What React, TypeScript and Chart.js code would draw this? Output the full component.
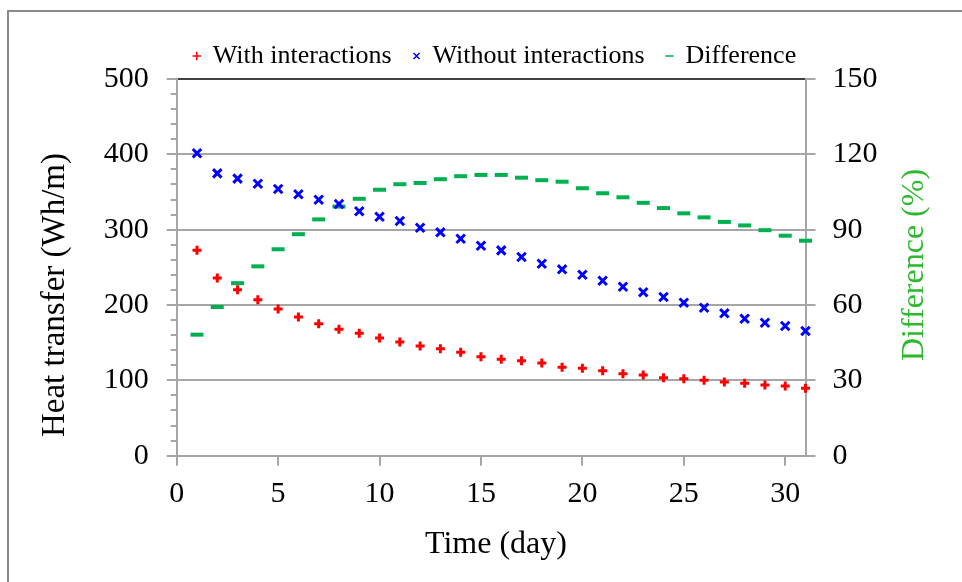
import React, { useEffect, useRef } from 'react';
import { Chart, registerables } from 'chart.js';

Chart.register(...registerables);

const days = [1, 2, 3, 4, 5, 6, 7, 8, 9, 10, 11, 12, 13, 14, 15, 16, 17, 18, 19, 20, 21, 22, 23, 24, 25, 26, 27, 28, 29, 30, 31];
const withInteractions = [272.6, 235.9, 220.3, 207.1, 194.7, 184.1, 175.2, 167.8, 162.5, 156.2, 150.9, 145.6, 142.0, 137.2, 131.4, 127.9, 126.1, 123.0, 117.3, 116.0, 112.8, 108.8, 107.1, 103.5, 102.2, 100.1, 97.8, 96.1, 93.8, 92.5, 89.5];
const withoutInteractions = [401.4, 374.8, 367.7, 361.0, 354.0, 347.0, 339.8, 334.1, 324.4, 317.2, 311.5, 302.6, 296.5, 288.0, 278.7, 272.6, 263.7, 254.8, 247.4, 240.2, 232.2, 224.3, 216.9, 210.6, 203.1, 196.4, 189.0, 181.8, 176.5, 172.2, 165.5];
const difference = [48.2, 59.2, 68.7, 75.4, 82.2, 88.2, 94.1, 99.2, 102.3, 105.9, 108.1, 108.6, 110.1, 111.3, 111.8, 111.8, 110.7, 109.7, 109.1, 106.5, 104.5, 102.9, 100.7, 98.6, 96.5, 94.9, 93.1, 91.7, 89.8, 87.6, 85.6];

const seriesLabels = ['With interactions', 'Without interactions', 'Difference'];
const xTitle = 'Time (day)';
const yTitle = 'Heat transfer (Wh/m)';
const y1Title = 'Difference (%)';

const FONT = 'Liberation Serif';
const GRID = '#a6a6a6';

const decorPlugin = {
  id: 'decor',
  beforeDraw(chart: any) {
    const ctx = chart.ctx;
    ctx.save();
    ctx.fillStyle = '#ffffff';
    ctx.fillRect(0, 0, chart.width, chart.height);
    ctx.strokeStyle = '#8a8a8a';
    ctx.lineWidth = 2;
    ctx.beginPath();
    ctx.moveTo(8, chart.height);
    ctx.lineTo(8, 11);
    ctx.lineTo(chart.width, 11);
    ctx.stroke();
    ctx.restore();
  },
  afterDraw(chart: any) {
    const ctx = chart.ctx;
    const ys = chart.scales.y;
    ctx.save();
    // minor ticks on left axis
    ctx.strokeStyle = GRID;
    ctx.lineWidth = 2;
    for (let v = 20; v < 500; v += 20) {
      if (v % 100 === 0) continue;
      const py = Math.round(ys.getPixelForValue(v));
      ctx.beginPath();
      ctx.moveTo(ys.right - 6, py);
      ctx.lineTo(ys.right, py);
      ctx.stroke();
    }
    // axis titles
    ctx.textAlign = 'center';
    ctx.textBaseline = 'middle';
    ctx.fillStyle = '#000000';
    ctx.font = `32px "${FONT}"`;
    ctx.fillText(xTitle, 496, 545);
    ctx.save();
    ctx.font = `33px "${FONT}"`;
    ctx.translate(55, 295);
    ctx.rotate(-Math.PI / 2);
    ctx.fillText(yTitle, 0, 0);
    ctx.restore();
    ctx.save();
    ctx.font = `32px "${FONT}"`;
    ctx.fillStyle = '#2db82d';
    ctx.translate(915, 265);
    ctx.rotate(-Math.PI / 2);
    ctx.fillText(y1Title, 0, 0);
    ctx.restore();
    ctx.restore();
  },
};

export default function App() {
  const ref = useRef<HTMLCanvasElement>(null);
  useEffect(() => {
    if (!ref.current) return;
    const toPts = (arr: number[]) => days.map((d, i) => ({ x: d, y: arr[i] }));
    const chart = new Chart(ref.current, {
      type: 'scatter',
      data: {
        datasets: [
          {
            label: seriesLabels[0],
            data: toPts(withInteractions),
            pointStyle: 'cross',
            pointRadius: 4.5,
            pointHoverRadius: 4.5,
            pointBorderWidth: 3,
            borderColor: '#ff0000',
            backgroundColor: '#ff0000',
            yAxisID: 'y',
            clip: false,
          },
          {
            label: seriesLabels[1],
            data: toPts(withoutInteractions),
            pointStyle: 'crossRot',
            pointRadius: 6,
            pointHoverRadius: 6,
            pointBorderWidth: 3,
            borderColor: '#0000ff',
            backgroundColor: '#0000ff',
            yAxisID: 'y',
            clip: false,
          },
          {
            label: seriesLabels[2],
            data: toPts(difference),
            pointStyle: 'line',
            pointRadius: 6.5,
            pointHoverRadius: 6.5,
            pointBorderWidth: 4,
            borderColor: '#00b050',
            backgroundColor: '#00b050',
            yAxisID: 'y1',
            clip: false,
          },
        ] as any,
      },
      options: {
        animation: false,
        responsive: false,
        maintainAspectRatio: false,
        events: [],
        layout: { padding: { top: 5, left: 28, right: 0, bottom: 0 } },
        plugins: {
          tooltip: { enabled: false },
          legend: {
            position: 'top',
            labels: {
              usePointStyle: true,
              boxWidth: 6,
              boxHeight: 6,
              padding: 22,
              color: '#000000',
              font: { family: FONT, size: 26 },
              generateLabels: (chart: any) => {
                const items = Chart.defaults.plugins.legend.labels.generateLabels(chart);
                items.forEach((it: any) => { it.lineWidth = 1.5; });
                return items;
              },
            },
          },
        },
        scales: {
          x: {
            type: 'linear',
            min: 0,
            max: 31,
            afterFit: (s: any) => { s.height = 126.3; },
            ticks: {
              stepSize: 5,
              includeBounds: false,
              padding: 10,
              color: '#000000',
              font: { family: FONT, size: 30 },
            },
            grid: { drawOnChartArea: false, drawTicks: true, tickLength: 10, color: GRID, lineWidth: 2 },
            border: { display: true, color: GRID, width: 2 },
          },
          y: {
            type: 'linear',
            position: 'left',
            min: 0,
            max: 500,
            afterFit: (s: any) => { s.width = 148.7; s.paddingTop = 79; },
            ticks: {
              stepSize: 100,
              padding: 18,
              color: '#000000',
              font: { family: FONT, size: 30 },
            },
            grid: {
              color: (c: any) => (c.tick && c.tick.value === 500 ? '#404040' : GRID),
              tickColor: GRID,
              lineWidth: 2,
              drawTicks: true,
              tickLength: 10,
            },
            border: { display: true, color: GRID, width: 2 },
          },
          y1: {
            type: 'linear',
            position: 'right',
            min: 0,
            max: 150,
            afterFit: (s: any) => { s.width = 156.5; },
            ticks: {
              stepSize: 30,
              padding: 17,
              color: '#000000',
              font: { family: FONT, size: 30 },
            },
            grid: { drawOnChartArea: false, drawTicks: true, tickLength: 10, color: GRID, lineWidth: 2 },
            border: { display: true, color: GRID, width: 2 },
          },
        },
      } as any,
      plugins: [decorPlugin],
    });
    return () => chart.destroy();
  }, []);
  return (
    <div style={{ position: 'absolute', left: 0, top: 0, width: 962, height: 582 }}>
      <canvas ref={ref} width={962} height={582} style={{ display: 'block' }} />
    </div>
  );
}
